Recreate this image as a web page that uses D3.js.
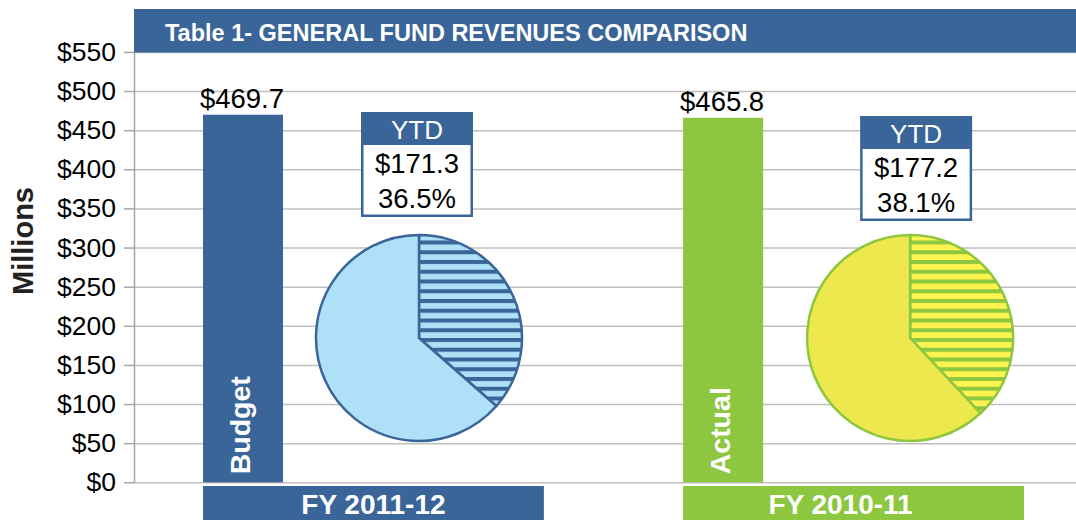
<!DOCTYPE html>
<html>
<head>
<meta charset="utf-8">
<script src="https://cdn.jsdelivr.net/npm/d3@7"></script>
<style>
  body { margin: 0; background: #fff; }
  svg { display: block; font-family: "Liberation Sans", Arial, sans-serif; }
</style>
</head>
<body>
<div id="chart"></div>
<script>
const title = "Table 1- GENERAL FUND REVENUES COMPARISON";
const years = ["FY 2011-12", "FY 2010-11"];
const barNames = ["Budget", "Actual"];
const totals = [469.7, 465.8];
const ytdValues = [171.3, 177.2];
const ytdPercents = [36.5, 38.1];
const yTicks = [0, 50, 100, 150, 200, 250, 300, 350, 400, 450, 500, 550];

const themes = [
  { main: "#3a6598", pieFill: "#aee0f7", stripe: "#3a6598", stripeBg: "#aee0f7" },
  { main: "#8dc63f", pieFill: "#ede84e", stripe: "#8dc63f", stripeBg: "#fff44f" }
];

// where the pie and the YTD box sit inside each year's band
const panelLayout = [
  { pieDx: 216, boxDx: 158, boxTop: 112, labelDx: 0 },
  { pieDx: 227, boxDx: 177, boxTop: 116, labelDx: -13 }
];

const width = 1076;
const height = 520;
const axisX = 134;
const pieY = 338;
const pieR = 103;
const barW = 80;
const boxW = 112;
const boxH = 105;

const svg = d3.select("#chart")
  .append("svg")
  .attr("width", width)
  .attr("height", height);

const y = d3.scaleLinear()
  .domain([0, 550])
  .range([482.3, 51.9]);

const x = d3.scaleBand()
  .domain(years)
  .range([203, 1024])
  .paddingInner(0.29)
  .paddingOuter(0);

const defs = svg.append("defs");
themes.forEach((t, i) => {
  const pat = defs.append("pattern")
    .attr("id", `stripes${i}`)
    .attr("patternUnits", "userSpaceOnUse")
    .attr("width", 20)
    .attr("height", 9.75);
  pat.append("rect").attr("width", 20).attr("height", 9.75).attr("fill", t.stripeBg);
  pat.append("rect").attr("width", 20).attr("height", 4).attr("fill", t.stripe);
});

// gridlines
const grid = svg.append("g")
  .attr("transform", `translate(${axisX},0)`)
  .call(d3.axisLeft(y).tickValues(yTicks).tickSize(-(width - axisX)).tickFormat(""));
grid.select(".domain").remove();
grid.selectAll("line").attr("stroke", "#bfbfbf").attr("stroke-width", 1.5);

// axis with outside ticks and labels
const yAxis = svg.append("g")
  .attr("transform", `translate(${axisX},0)`)
  .call(d3.axisLeft(y)
    .tickValues(yTicks)
    .tickSize(10)
    .tickSizeOuter(0)
    .tickPadding(8)
    .tickFormat(d => `$${d}`));
yAxis.select(".domain").attr("stroke", "#a6a6a6").attr("stroke-width", 1.5);
yAxis.selectAll("line").attr("stroke", "#a6a6a6").attr("stroke-width", 1.5);
yAxis.selectAll("text")
  .attr("font-size", 26.5)
  .attr("font-family", "Liberation Sans, Arial, sans-serif")
  .attr("fill", "#000");

svg.append("text")
  .attr("transform", "translate(33,241) rotate(-90)")
  .attr("text-anchor", "middle")
  .attr("font-size", 29)
  .attr("font-weight", "bold")
  .attr("fill", "#222")
  .text("Millions");

// title bar
svg.append("rect")
  .attr("x", axisX)
  .attr("y", 9)
  .attr("width", width - axisX)
  .attr("height", 43.5)
  .attr("fill", themes[0].main);

svg.append("text")
  .attr("x", 165)
  .attr("y", 40.5)
  .attr("font-size", 23.5)
  .attr("font-weight", "bold")
  .attr("fill", "#fff")
  .text(title);

const arc = d3.arc().innerRadius(0).outerRadius(pieR);
const pie = d3.pie().sort(null).value(d => d);

years.forEach((year, i) => {
  const t = themes[i];
  const lay = panelLayout[i];
  const x0 = x(year);
  const g = svg.append("g");

  // total bar
  g.append("rect")
    .attr("x", x0)
    .attr("y", y(totals[i]))
    .attr("width", barW)
    .attr("height", y(0) - y(totals[i]))
    .attr("fill", t.main);

  g.append("text")
    .attr("x", x0 + barW / 2 - 1)
    .attr("y", y(totals[i]) - 7)
    .attr("text-anchor", "middle")
    .attr("font-size", 27.5)
    .attr("fill", "#000")
    .text(`$${totals[i].toFixed(1)}`);

  g.append("text")
    .attr("transform", `translate(${x0 + barW / 2 + 7},${y(0) - 8}) rotate(-90)`)
    .attr("font-size", 28.5)
    .attr("font-weight", "bold")
    .attr("fill", "#fff")
    .text(barNames[i]);

  // year label bar
  g.append("rect")
    .attr("x", x0)
    .attr("y", 486)
    .attr("width", x.bandwidth())
    .attr("height", 40)
    .attr("fill", t.main);

  g.append("text")
    .attr("x", x0 + x.bandwidth() / 2 + lay.labelDx)
    .attr("y", 514)
    .attr("text-anchor", "middle")
    .attr("font-size", 28)
    .attr("font-weight", "bold")
    .attr("fill", "#fff")
    .text(year);

  // YTD pie
  const slices = pie([ytdValues[i], totals[i] - ytdValues[i]]);
  g.append("g")
    .attr("transform", `translate(${x0 + lay.pieDx},${pieY})`)
    .selectAll("path")
    .data(slices)
    .join("path")
    .attr("d", arc)
    .attr("fill", (d, j) => j === 0 ? `url(#stripes${i})` : t.pieFill)
    .attr("stroke", t.main)
    .attr("stroke-width", 2.5)
    .attr("stroke-linejoin", "round");

  // YTD box
  const bx = x0 + lay.boxDx;
  const by = lay.boxTop;
  g.append("rect")
    .attr("x", bx)
    .attr("y", by)
    .attr("width", boxW)
    .attr("height", boxH)
    .attr("fill", themes[0].main);
  g.append("rect")
    .attr("x", bx + 2.5)
    .attr("y", by + 33)
    .attr("width", boxW - 5)
    .attr("height", boxH - 35.5)
    .attr("fill", "#fff");

  g.append("text")
    .attr("x", bx + boxW / 2)
    .attr("y", by + 27)
    .attr("text-anchor", "middle")
    .attr("font-size", 26)
    .attr("fill", "#fff")
    .text("YTD");

  g.append("text")
    .attr("x", bx + boxW / 2)
    .attr("y", by + 61)
    .attr("text-anchor", "middle")
    .attr("font-size", 27.5)
    .attr("fill", "#000")
    .text(`$${ytdValues[i].toFixed(1)}`);

  g.append("text")
    .attr("x", bx + boxW / 2)
    .attr("y", by + 96)
    .attr("text-anchor", "middle")
    .attr("font-size", 27.5)
    .attr("fill", "#000")
    .text(`${ytdPercents[i].toFixed(1)}%`);
});
</script>
</body>
</html>
